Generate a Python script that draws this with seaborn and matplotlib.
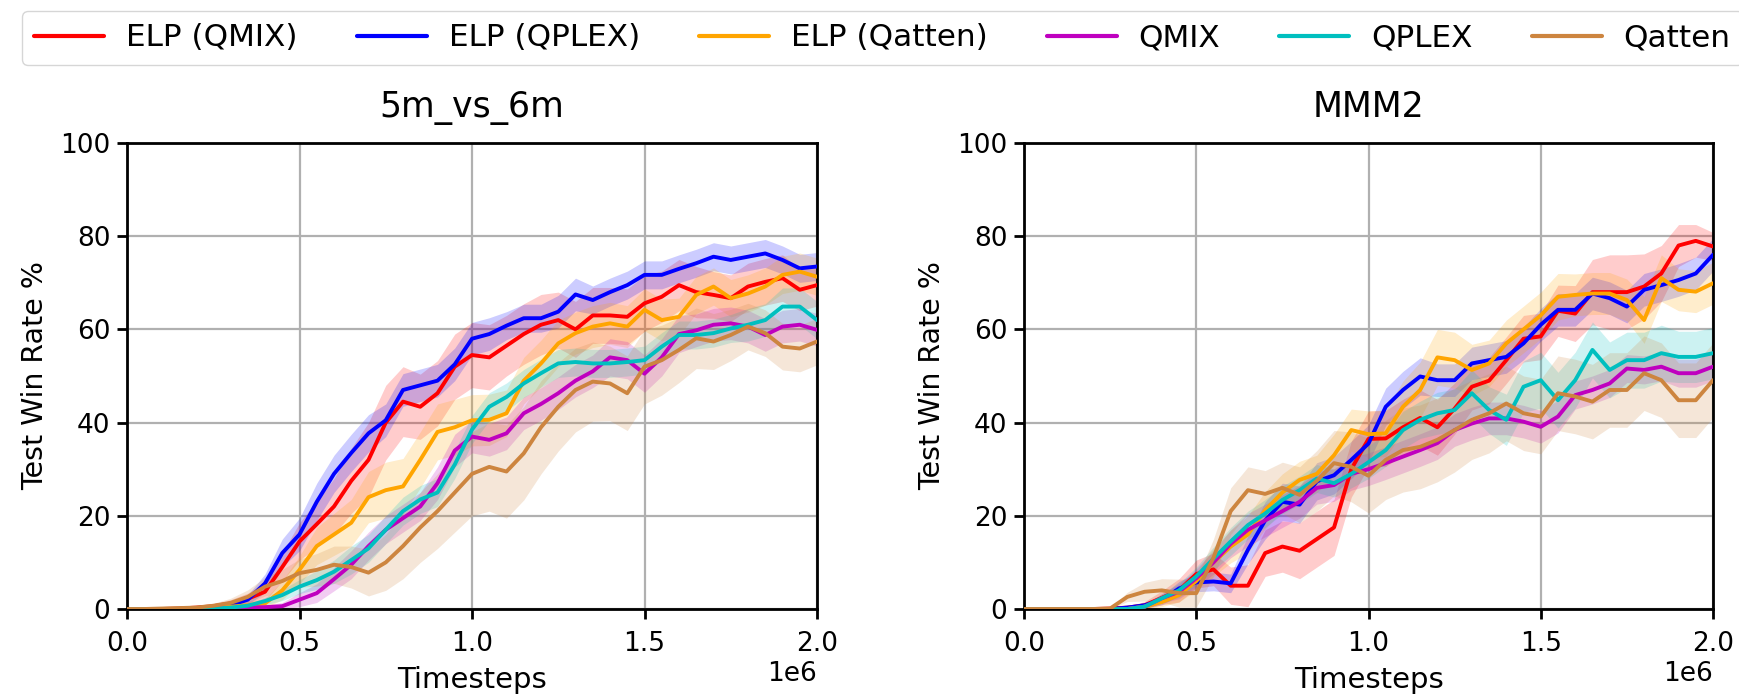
import numpy as np
import pandas as pd
import matplotlib
matplotlib.use("Agg")
import matplotlib.pyplot as plt
from matplotlib.lines import Line2D
import seaborn as sns

# ---------------- data ----------------
steps = [0, 50000, 100000, 150000, 200000, 250000, 300000, 350000, 400000, 450000,
         500000, 550000, 600000, 650000, 700000, 750000, 800000, 850000, 900000, 950000,
         1000000, 1050000, 1100000, 1150000, 1200000, 1250000, 1300000, 1350000, 1400000, 1450000,
         1500000, 1550000, 1600000, 1650000, 1700000, 1750000, 1800000, 1850000, 1900000, 1950000,
         2000000]

methods = ["ELP (QMIX)", "ELP (QPLEX)", "ELP (Qatten)", "QMIX", "QPLEX", "Qatten"]
colors = ["#ff0000", "#0000ff", "#ffa500", "#bf00bf", "#00bfbf", "#cd853f"]
maps = ["5m_vs_6m", "MMM2"]

# 5m_vs_6m  (mean win rate %)
m5_elp_qmix = [0, 0, 0, 0.1, 0.3, 0.6, 1.2, 2.2, 3.7, 9.0, 14.5, 18.2, 22.0, 27.5, 32.0, 40.0, 44.5, 43.4, 46.3, 52.0,
               54.5, 54.0, 56.5, 59.0, 61.0, 62.0, 60.0, 63.0, 63.0, 62.7, 65.6, 67.0, 69.5, 68.0, 67.4, 66.7, 69.2, 70.2,
               71.0, 68.5, 69.5]
m5_elp_qplex = [0, 0, 0, 0, 0.2, 0.4, 0.8, 2.0, 5.5, 12.0, 16.0, 23.0, 29.0, 33.5, 37.7, 40.5, 47.0, 48.0, 49.0, 52.5,
                58.0, 59.0, 60.8, 62.4, 62.4, 63.8, 67.5, 66.3, 68.0, 69.5, 71.7, 71.7, 73.0, 74.2, 75.6, 74.9, 75.6, 76.3,
                74.9, 73.1, 73.5]
m5_elp_qatten = [0, 0, 0, 0, 0.2, 0.3, 0.5, 0.8, 1.2, 4.0, 8.4, 13.5, 16.0, 18.5, 24.0, 25.5, 26.3, 32.0, 38.0, 39.0,
                 40.5, 40.6, 42.0, 49.0, 52.7, 57.0, 59.2, 60.6, 61.3, 60.6, 64.2, 62.0, 62.7, 67.4, 69.2, 66.7, 67.7, 69.2,
                 71.7, 72.4, 71.3]
m5_qmix = [0, 0, 0, 0, 0, 0.1, 0.2, 0.3, 0.4, 0.6, 2.0, 3.4, 6.4, 9.5, 13.5, 17.0, 19.5, 22.0, 27.0, 34.0,
           37.0, 36.3, 37.7, 42.0, 44.0, 46.3, 49.0, 51.0, 54.0, 53.4, 50.5, 54.0, 59.0, 59.8, 61.0, 61.3, 60.6, 58.8,
           60.6, 61.0, 59.9]
m5_qplex = [0, 0, 0, 0, 0, 0.1, 0.3, 0.7, 1.7, 3.0, 4.8, 6.2, 8.0, 10.5, 13.0, 17.0, 21.0, 23.5, 25.0, 31.0,
            38.5, 43.4, 45.5, 48.4, 50.6, 52.7, 53.0, 52.7, 52.7, 53.0, 53.4, 56.3, 58.8, 58.8, 59.2, 60.2, 61.0, 62.0,
            64.9, 64.9, 62.0]
m5_qatten = [0, 0, 0.1, 0.2, 0.3, 0.7, 1.3, 2.6, 4.8, 6.0, 7.7, 8.4, 9.5, 9.0, 7.8, 10.0, 13.5, 17.5, 21.0, 25.0,
             29.0, 30.5, 29.5, 33.4, 39.0, 43.4, 47.0, 48.8, 48.4, 46.3, 52.0, 53.4, 55.6, 58.1, 57.4, 58.8, 60.6, 59.2,
             56.3, 55.9, 57.4]

# 5m_vs_6m  (half width of shaded band)
m5_elp_qmix_band = [0, 0, 0, 0.2, 0.3, 0.5, 0.8, 1.2, 2.0, 3.0, 4.0, 5.0, 6.0, 7.0, 8.0, 8.0, 7.5, 7.0, 7.0, 7.0,
                    7.0, 7.0, 6.5, 6.5, 6.5, 6.0, 6.0, 6.0, 6.0, 6.0, 6.0, 5.5, 5.5, 5.5, 5.0, 5.0, 5.0, 5.0, 5.0, 4.5, 4.5]
m5_elp_qplex_band = [0, 0, 0, 0, 0.2, 0.3, 0.5, 1.0, 2.0, 3.0, 3.5, 4.0, 4.0, 4.0, 4.0, 3.5, 3.5, 3.5, 3.5, 3.5,
                     3.5, 3.5, 3.0, 3.0, 3.0, 3.5, 3.5, 3.0, 3.0, 3.0, 3.0, 3.0, 3.0, 3.0, 3.0, 3.0, 3.0, 3.0, 3.0, 3.0, 3.0]
m5_elp_qatten_band = [0, 0, 0, 0, 0.2, 0.3, 0.5, 0.8, 1.0, 2.0, 3.0, 4.0, 4.5, 5.0, 5.5, 6.0, 6.0, 6.0, 6.0, 6.0,
                      5.5, 5.5, 5.0, 5.0, 5.0, 5.0, 4.5, 4.5, 4.5, 4.5, 4.5, 4.5, 4.0, 4.0, 4.0, 4.0, 4.0, 4.0, 4.0, 4.0, 4.0]
m5_qmix_band = [0, 0, 0, 0, 0, 0.1, 0.2, 0.3, 0.4, 0.8, 1.5, 2.0, 2.5, 3.0, 3.0, 3.0, 3.0, 3.0, 3.5, 3.5,
                3.5, 3.5, 3.5, 3.5, 3.5, 3.5, 3.5, 3.5, 4.0, 4.0, 4.0, 4.0, 4.0, 3.5, 3.5, 3.5, 3.5, 3.5, 3.5, 3.5, 3.5]
m5_qplex_band = [0, 0, 0, 0, 0, 0.1, 0.2, 0.4, 0.8, 1.2, 1.5, 2.0, 2.5, 3.0, 3.0, 3.0, 3.0, 3.0, 3.0, 3.0,
                 3.0, 3.0, 3.0, 3.0, 3.0, 3.0, 3.0, 3.0, 3.0, 3.0, 3.0, 3.0, 3.0, 3.0, 3.0, 3.0, 3.5, 3.5, 4.0, 4.0, 4.0]
m5_qatten_band = [0, 0, 0.1, 0.2, 0.3, 0.5, 1.0, 1.5, 2.0, 2.5, 3.0, 3.5, 4.0, 4.5, 5.0, 6.0, 7.0, 7.5, 8.0, 8.5,
                  9.0, 9.5, 10.0, 10.0, 10.0, 9.5, 9.0, 8.5, 8.0, 8.0, 8.0, 7.5, 7.0, 6.5, 6.0, 5.5, 5.0, 5.0, 5.0, 5.0, 5.0]

# MMM2  (mean win rate %)
mm_elp_qmix = [0, 0, 0, 0, 0, 0.1, 0.3, 0.8, 2.4, 4.0, 7.5, 8.5, 5.0, 5.0, 12.0, 13.4, 12.5, 15.0, 17.5, 30.0,
               36.5, 36.6, 39.0, 41.0, 39.0, 43.0, 47.7, 49.0, 53.4, 58.0, 58.5, 64.0, 63.4, 68.0, 68.0, 68.0, 69.2, 72.0,
               78.0, 79.0, 77.8]
mm_elp_qplex = [0, 0, 0, 0, 0, 0, 0.3, 0.8, 1.9, 4.4, 5.7, 5.9, 5.5, 12.7, 19.0, 23.0, 22.4, 27.4, 28.7, 32.0,
                35.5, 43.4, 47.0, 49.9, 49.1, 49.1, 52.7, 53.4, 54.1, 57.0, 61.0, 64.2, 64.2, 67.7, 66.7, 64.9, 68.5, 69.5,
                70.6, 72.0, 76.0]
mm_elp_qatten = [0, 0, 0, 0, 0, 0, 0, 0.5, 1.5, 3.0, 6.0, 10.0, 13.4, 16.0, 21.2, 25.0, 27.7, 29.0, 33.0, 38.4,
                 37.5, 37.7, 43.4, 47.0, 54.0, 53.4, 51.3, 52.7, 57.0, 60.0, 63.0, 67.0, 67.4, 67.7, 67.7, 66.3, 62.0, 71.0,
                 68.5, 68.1, 69.9]
mm_qmix = [0, 0, 0, 0, 0, 0, 0, 0.5, 2.3, 3.7, 6.6, 10.0, 14.0, 17.0, 19.0, 21.0, 23.0, 26.0, 26.6, 29.0,
           30.0, 31.3, 32.7, 34.1, 35.6, 38.4, 39.8, 40.9, 40.9, 40.2, 39.1, 41.3, 45.9, 47.0, 48.4, 51.6, 51.3, 52.0,
           50.6, 50.6, 52.0]
mm_qplex = [0, 0, 0, 0, 0, 0, 0, 0.5, 2.3, 4.0, 7.0, 10.8, 14.5, 18.0, 20.5, 23.4, 25.5, 28.0, 27.0, 29.0,
            31.5, 34.1, 38.4, 40.6, 42.0, 42.7, 46.3, 42.7, 40.6, 47.7, 49.1, 44.8, 49.1, 55.6, 51.3, 53.4, 53.4, 54.9,
            54.1, 54.1, 54.9]
mm_qatten = [0, 0, 0, 0, 0, 0.1, 2.6, 3.7, 4.0, 3.4, 3.4, 11.0, 21.0, 25.5, 24.7, 26.0, 24.5, 27.5, 31.3, 30.5,
             28.6, 32.0, 34.1, 34.8, 36.3, 38.4, 40.6, 42.0, 44.1, 42.0, 41.3, 46.3, 45.6, 44.5, 47.0, 47.0, 50.6, 49.1,
             44.8, 44.8, 49.1]

# MMM2  (half width of shaded band)
mm_elp_qmix_band = [0, 0, 0, 0, 0, 0.1, 0.3, 0.8, 1.5, 2.5, 3.0, 3.5, 4.0, 4.5, 5.0, 5.5, 6.0, 6.0, 6.0, 6.0,
                    6.0, 6.0, 6.0, 6.0, 6.0, 5.5, 5.0, 5.0, 5.0, 5.0, 5.0, 5.5, 6.0, 7.0, 8.0, 8.0, 7.0, 6.0, 4.5, 3.5, 3.0]
mm_elp_qplex_band = [0, 0, 0, 0, 0, 0, 0.3, 0.6, 1.0, 1.5, 2.0, 2.0, 2.0, 3.0, 4.0, 4.0, 4.0, 4.0, 4.0, 4.0,
                     4.0, 4.0, 4.0, 4.0, 3.5, 3.5, 3.5, 3.5, 3.5, 3.5, 3.5, 3.5, 3.5, 3.5, 3.5, 3.5, 3.5, 3.5, 3.5, 3.5, 3.5]
mm_elp_qatten_band = [0, 0, 0, 0, 0, 0, 0, 0.4, 1.0, 1.5, 2.0, 3.0, 3.5, 4.0, 4.0, 4.0, 4.0, 4.0, 4.5, 4.5,
                      5.0, 5.0, 5.5, 6.0, 6.0, 6.0, 5.5, 5.0, 5.0, 5.0, 5.0, 5.0, 4.5, 4.5, 4.5, 4.5, 5.0, 5.0, 4.5, 4.5, 4.5]
mm_qmix_band = [0, 0, 0, 0, 0, 0, 0, 0.4, 1.0, 1.5, 2.0, 2.5, 3.0, 3.5, 3.5, 3.5, 3.5, 3.5, 3.5, 3.5,
                3.5, 3.5, 3.5, 3.5, 3.5, 3.5, 3.5, 3.5, 3.5, 3.5, 3.5, 3.5, 3.0, 3.0, 3.0, 3.0, 3.0, 3.0, 3.0, 3.0, 3.0]
mm_qplex_band = [0, 0, 0, 0, 0, 0, 0, 0.4, 1.0, 1.5, 2.0, 2.5, 3.0, 3.0, 3.0, 3.0, 3.0, 3.0, 3.0, 3.0,
                 3.5, 3.5, 4.0, 4.0, 4.5, 4.5, 5.0, 5.0, 5.5, 5.5, 6.0, 6.0, 6.0, 6.0, 6.0, 6.0, 6.0, 6.0, 5.5, 5.5, 5.5]
mm_qatten_band = [0, 0, 0, 0, 0, 0.1, 1.0, 2.0, 2.5, 3.0, 3.0, 4.0, 5.0, 5.0, 5.0, 5.5, 6.0, 6.5, 7.0, 7.5,
                  8.0, 8.5, 9.0, 9.0, 9.0, 9.0, 8.5, 8.5, 8.0, 8.0, 8.0, 8.0, 8.0, 8.0, 8.0, 8.0, 8.0, 8.0, 8.0, 8.0, 8.0]

x_ticks = [0, 500000, 1000000, 1500000, 2000000]
y_ticks = [0, 20, 40, 60, 80, 100]

series = {
    "5m_vs_6m": [m5_elp_qmix, m5_elp_qplex, m5_elp_qatten, m5_qmix, m5_qplex, m5_qatten],
    "MMM2": [mm_elp_qmix, mm_elp_qplex, mm_elp_qatten, mm_qmix, mm_qplex, mm_qatten],
}
bands = {
    "5m_vs_6m": [m5_elp_qmix_band, m5_elp_qplex_band, m5_elp_qatten_band, m5_qmix_band, m5_qplex_band, m5_qatten_band],
    "MMM2": [mm_elp_qmix_band, mm_elp_qplex_band, mm_elp_qatten_band, mm_qmix_band, mm_qplex_band, mm_qatten_band],
}

# ---------------- style ----------------
sns.set_style("whitegrid", rc={
    "axes.edgecolor": "black",
    "axes.linewidth": 2.0,
    "grid.color": "#b0b0b0",
    "grid.linewidth": 1.6,
    "xtick.bottom": True,
    "ytick.left": True,
    "xtick.direction": "out",
    "ytick.direction": "out",
    "xtick.color": "black",
    "ytick.color": "black",
    "axes.labelcolor": "black",
    "text.color": "black",
})
plt.rcParams["font.family"] = ["DejaVu Sans"]

W, H = 1739, 695
fig = plt.figure(figsize=(W / 100, H / 100), dpi=100)
ax_pos = [[127 / W, (H - 609) / H, 690 / W, 466 / H],
          [1024 / W, (H - 609) / H, 689 / W, 466 / H]]

for mi, mp in enumerate(maps):
    ax = fig.add_axes(ax_pos[mi])
    rows = []
    for name, vals in zip(methods, series[mp]):
        for s, v in zip(steps, vals):
            rows.append({"step": s, "win": v, "method": name})
    df = pd.DataFrame(rows)

    for name, col, vals, bw in zip(methods, colors, series[mp], bands[mp]):
        v = np.array(vals, dtype=float)
        b = np.array(bw, dtype=float)
        ax.fill_between(steps, np.clip(v - b, 0, 100), np.clip(v + b, 0, 100),
                        color=col, alpha=0.2, linewidth=0, zorder=1)

    sns.lineplot(data=df, x="step", y="win", hue="method", hue_order=methods,
                 palette=colors, linewidth=2.8, errorbar=None, legend=False, ax=ax, zorder=3)

    ax.set_xlim(0, 2000000)
    ax.set_ylim(0, 100)
    ax.set_xticks(x_ticks)
    ax.set_yticks(y_ticks)
    ax.tick_params(axis="both", labelsize=19, length=7, width=2)
    ax.tick_params(axis="x", pad=9)
    ax.tick_params(axis="y", pad=5)
    ax.xaxis.get_offset_text().set_fontsize(19)
    ax.set_title(mp, fontsize=25, pad=19)
    ax.set_xlabel("Timesteps", fontsize=21, labelpad=6.5)
    ax.set_ylabel("Test Win Rate %", fontsize=20.5, labelpad=8)
    ax.grid(True, color="#b0b0b0", linewidth=1.6)
    ax.set_axisbelow(True)
    for sp in ax.spines.values():
        sp.set_color("black")
        sp.set_linewidth(2.0)

handles = [Line2D([0], [0], color=c, linewidth=3) for c in colors]
fig.legend(handles, methods, loc="upper left", bbox_to_anchor=(22 / W, 1 - 11 / H),
           borderaxespad=0, ncol=6, fontsize=22.4, handlelength=2.25, handletextpad=0.7,
           columnspacing=1.9, frameon=True, fancybox=True, edgecolor="0.8")

fig.savefig("out.png", dpi=100)
